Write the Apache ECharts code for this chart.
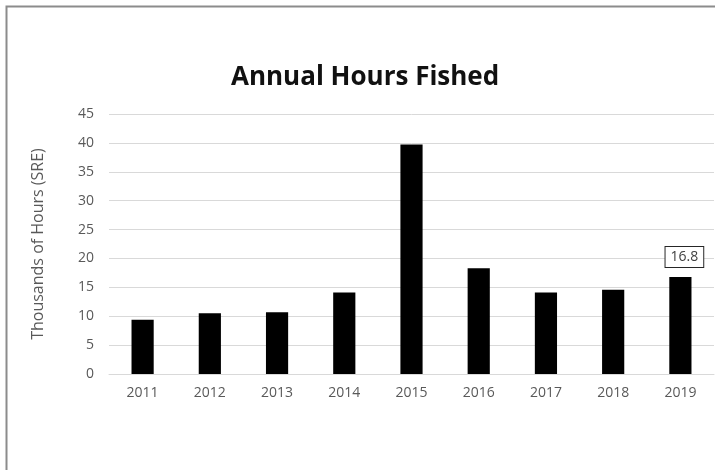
<!DOCTYPE html>
<html>
<head>
<meta charset="utf-8">
<script src="https://cdn.jsdelivr.net/npm/echarts@6/dist/echarts.min.js"></script>
<style>
  html, body { margin: 0; padding: 0; background: #ffffff; }
  #chart { width: 715px; height: 470px; }
</style>
</head>
<body>
<div id="chart"></div>
<script>
// Annual fishing effort, thousands of hours (SRE)
const years = ['2011', '2012', '2013', '2014', '2015', '2016', '2017', '2018', '2019'];
const hours = [9.4, 10.5, 10.7, 14.1, 39.7, 18.3, 14.1, 14.6, 16.8];
const yTicks = { min: 0, max: 45, interval: 5 };
const labelledYear = '2019';

const chart = echarts.init(document.getElementById('chart'), null, { renderer: 'canvas' });

const barData = hours.map((v, i) => {
  const item = { value: v };
  if (years[i] === labelledYear) {
    item.label = {
      show: true,
      position: 'top',
      distance: 10,
      offset: [4, 0],
      formatter: (p) => p.value.toFixed(1),
      color: '#404040',
      fontFamily: 'Open Sans',
      fontSize: 14,
      backgroundColor: '#ffffff',
      borderColor: '#262626',
      borderWidth: 1,
      padding: [3, 5, 3, 5]
    };
  }
  return item;
});

chart.setOption({
  backgroundColor: '#ffffff',
  animation: false,
  title: {
    text: 'Annual Hours Fished',
    left: 226,
    top: 60,
    textStyle: {
      fontFamily: 'Open Sans',
      fontWeight: 'bold',
      fontSize: 26,
      color: '#111111'
    }
  },
  graphic: [{
    type: 'polyline',
    shape: { points: [[6.5, 470], [6.5, 6.5], [715, 6.5]] },
    style: { stroke: '#8c8c8c', lineWidth: 2, fill: null }
  }],
  grid: { left: 109, right: 1, top: 114, bottom: 96 },
  xAxis: {
    type: 'category',
    data: years,
    axisLine: { show: true, lineStyle: { color: '#d9d9d9' } },
    axisTick: { show: false },
    axisLabel: {
      color: '#595959',
      fontFamily: 'Open Sans',
      fontSize: 14,
      margin: 12
    }
  },
  yAxis: {
    type: 'value',
    min: yTicks.min,
    max: yTicks.max,
    interval: yTicks.interval,
    name: 'Thousands of Hours (SRE)',
    nameLocation: 'middle',
    nameGap: 63,
    nameTextStyle: {
      color: '#595959',
      fontFamily: 'Open Sans',
      fontSize: 16
    },
    axisLine: { show: false },
    axisTick: { show: false },
    axisLabel: {
      color: '#595959',
      fontFamily: 'Open Sans',
      fontSize: 14,
      margin: 15
    },
    splitLine: { lineStyle: { color: '#d9d9d9', width: 1 } }
  },
  series: [{
    type: 'bar',
    data: barData,
    barWidth: '33%',
    itemStyle: { color: '#000000' }
  }]
});
</script>
</body>
</html>
